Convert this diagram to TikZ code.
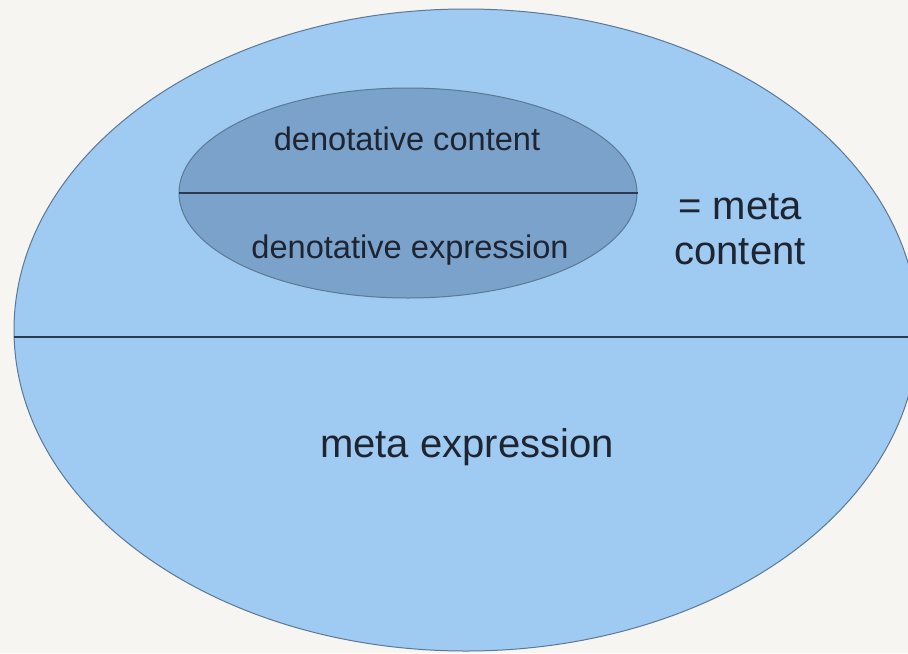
\documentclass[tikz,border=0pt]{standalone}
\usepackage{fontspec}
\setmainfont{Liberation Sans}
\usetikzlibrary{shapes.geometric,positioning}
\definecolor{paper}{HTML}{F6F5F1}
\definecolor{outerblue}{HTML}{9FCAF1}
\definecolor{innerblue}{HTML}{7BA2CB}
\definecolor{rimline}{HTML}{5B7896}
\definecolor{splitline}{HTML}{2B3B55}
\definecolor{labeltext}{HTML}{1E2430}

\begin{document}
\begin{tikzpicture}[
  x=0.5pt, y=-0.5pt,
  blob/.style={ellipse,draw=rimline,line width=0.5pt,inner sep=0pt},
  divider/.style={draw=splitline,line width=0.7pt},
  small/.style={font=\fontsize{16.3}{19}\selectfont,text=labeltext,inner sep=0pt},
  big/.style={font=\fontsize{20}{22.5}\selectfont,text=labeltext,align=center,inner sep=0pt}
  ]
  \fill[paper] (0,0) rectangle (908,653);
  \useasboundingbox (0,0) rectangle (908,653);
  \clip (0,0) rectangle (908,653);

  \node [blob,fill=outerblue,minimum width=452pt,minimum height=321pt] (meta) at (466,330) {};
  \node [blob,fill=innerblue,minimum width=229pt,minimum height=105pt] (deno) at (408,193) {};

  \draw[divider] ([yshift=-3.5pt]meta.west) -- ([yshift=-3.5pt]meta.east);
  \draw[divider] (deno.west) -- (deno.east);

  \node [small] (dencon) at (407,139) {denotative content};
  \node [small] (denexp) at (410,250) {denotative expression};
  \node [big] (metacon) at (740,229) {= meta\\content};
  \node [big] (metaexp) at (467,447) {meta expression};
\end{tikzpicture}
\end{document}
